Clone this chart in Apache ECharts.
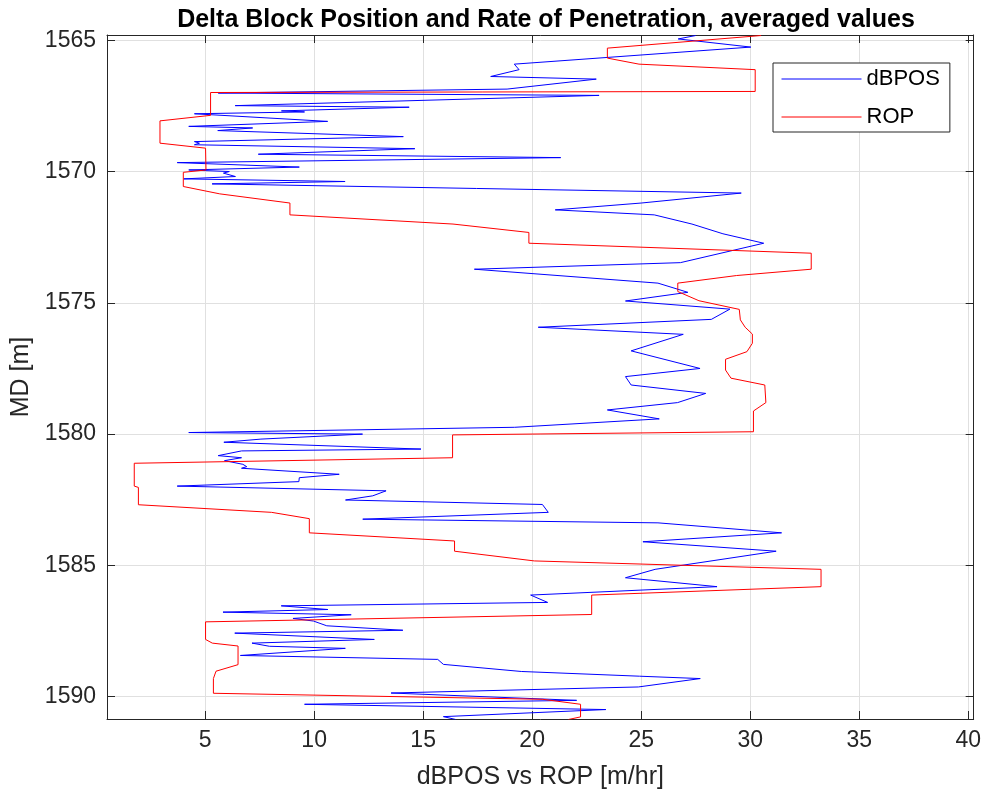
<!DOCTYPE html>
<html>
<head>
<meta charset="utf-8">
<script src="https://cdn.jsdelivr.net/npm/echarts@6/dist/echarts.min.js"></script>
<style>
  html, body { margin: 0; padding: 0; background: #ffffff; }
  #chart { width: 984px; height: 800px; }
</style>
</head>
<body>
<div id="chart"></div>
<script>
// Rate of penetration [m/hr] against measured depth [m]
const ropDepth = [1564.82, 1565.30, 1565.68, 1565.91, 1566.12, 1566.95, 1566.99, 1567.86, 1568.07, 1568.92,
  1569.11, 1569.94, 1570.03, 1570.57, 1570.85, 1571.20, 1571.65, 1572.00, 1572.32, 1572.73,
  1573.11, 1573.72, 1573.96, 1574.25, 1574.57, 1574.92, 1575.25, 1575.65, 1575.93, 1576.19,
  1576.54, 1576.86, 1577.15, 1577.56, 1577.87, 1578.13, 1578.80, 1579.12, 1579.91, 1580.03,
  1580.90, 1581.11, 1581.98, 1582.03, 1582.69, 1582.98, 1583.22, 1583.76, 1584.07, 1584.46,
  1584.83, 1585.15, 1585.81, 1586.13, 1586.87, 1587.15, 1587.82, 1587.96, 1588.07, 1588.78,
  1589.03, 1589.31, 1589.87, 1590.10, 1590.29, 1590.77, 1590.87];
const ropValue = [30.5, 23.45, 23.45, 24.9, 30.23, 30.23, 5.25, 5.25, 2.93, 2.93,
  5.02, 5.04, 4.0, 4.0, 5.67, 8.89, 8.89, 16.37, 19.85, 19.85,
  32.8, 32.8, 29.38, 26.68, 26.68, 27.65, 29.5, 29.55, 29.77, 30.1,
  30.1, 29.85, 28.87, 28.87, 29.12, 30.67, 30.72, 30.15, 30.15, 16.35,
  16.35, 1.75, 1.75, 1.94, 1.94, 8.05, 9.78, 9.78, 16.44, 16.44,
  20.1, 33.25, 33.25, 22.73, 22.73, 5.02, 5.02, 5.33, 6.51, 6.51,
  5.5, 5.38, 5.38, 20.49, 22.22, 22.22, 21.66];

// Delta block position against measured depth [m]
const dbposDepth = [1564.82, 1564.95, 1565.26, 1565.91, 1566.12, 1566.38, 1566.48, 1566.86, 1567.01, 1567.10,
  1567.49, 1567.55, 1567.69, 1567.73, 1567.80, 1568.09, 1568.28, 1568.34, 1568.44, 1568.67,
  1568.86, 1568.92, 1568.98, 1569.13, 1569.34, 1569.47, 1569.66, 1569.83, 1569.94, 1570.00,
  1570.06, 1570.19, 1570.28, 1570.38, 1570.47, 1570.82, 1571.20, 1571.46, 1571.65, 1572.00,
  1572.37, 1572.73, 1573.47, 1573.72, 1574.25, 1574.60, 1574.93, 1575.24, 1575.63, 1575.93,
  1576.20, 1576.83, 1577.50, 1577.81, 1578.13, 1578.45, 1578.80, 1579.08, 1579.42, 1579.74,
  1579.94, 1580.00, 1580.19, 1580.31, 1580.57, 1580.64, 1580.82, 1580.90, 1581.01, 1581.15,
  1581.24, 1581.30, 1581.53, 1581.66, 1581.81, 1581.98, 1582.16, 1582.35, 1582.51, 1582.68,
  1582.98, 1583.24, 1583.38, 1583.76, 1584.10, 1584.46, 1585.15, 1585.47, 1585.81, 1586.13,
  1586.41, 1586.54, 1586.68, 1586.78, 1586.88, 1587.02, 1587.12, 1587.30, 1587.47, 1587.58,
  1587.82, 1587.96, 1588.08, 1588.16, 1588.43, 1588.58, 1588.77, 1589.04, 1589.22, 1589.31,
  1589.63, 1589.86, 1590.14, 1590.29, 1590.49, 1590.76, 1590.87];
const dbposValue = [27.5, 26.7, 30.03, 19.18, 19.4, 18.1, 22.94, 18.85, 5.6, 23.07,
  6.38, 14.36, 8.5, 9.56, 4.51, 10.62, 4.25, 7.18, 5.58, 14.09,
  4.51, 4.74, 4.51, 14.62, 7.44, 21.31, 3.72, 9.32, 4.25, 6.11,
  5.84, 6.39, 4.02, 11.42, 5.32, 29.59, 25.0, 21.06, 25.6, 27.33,
  28.75, 30.62, 26.8, 17.35, 25.77, 27.14, 24.28, 29.07, 28.22, 20.28,
  26.93, 24.54, 27.7, 24.28, 24.54, 27.96, 26.67, 23.45, 25.83, 19.2,
  4.25, 12.22, 7.56, 5.86, 14.9, 6.67, 5.6, 6.67, 5.89, 6.73,
  6.91, 6.67, 11.15, 9.32, 9.3, 3.72, 13.3, 12.69, 11.44, 20.47,
  20.74, 12.23, 25.77, 31.44, 25.08, 31.19, 25.64, 24.28, 28.48, 19.93,
  20.71, 8.49, 10.63, 5.82, 11.70, 9.03, 9.97, 10.58, 14.07, 6.36,
  12.76, 7.15, 7.95, 11.43, 6.62, 15.67, 15.93, 19.5, 24.92, 27.71,
  24.87, 13.53, 22.04, 9.56, 23.38, 15.93, 16.5];

const xRange = [0.5, 40.25];
const depthRange = [1564.8, 1590.85];

const pairs = (xs, ys) => xs.map((v, i) => [v, ys[i]]);

const axisColor = '#262626';
const gridColor = '#e0e0e0';
const fontFamily = '"Liberation Sans", Arial, Helvetica, sans-serif';

const boxAxisLine = { show: true, onZero: false, lineStyle: { color: axisColor, width: 1 } };
const innerTicks = { show: true, inside: true, length: 8, lineStyle: { color: axisColor, width: 1 } };
const multipleOf5 = v => (Math.abs(v % 5) < 1e-9 ? String(v) : '');

// Legend entries show a plain line sample, no marker
const legendEntry = (name, color) => ({
  name,
  itemStyle: { color: 'rgba(0,0,0,0)', borderWidth: 0 },
  lineStyle: { color, width: 1 }
});

const chart = echarts.init(document.getElementById('chart'), null, { renderer: 'canvas' });

chart.setOption({
  animation: false,
  backgroundColor: '#ffffff',
  title: {
    text: 'Delta Block Position and Rate of Penetration, averaged values',
    left: 541, top: 3, textAlign: 'center',
    textStyle: { fontFamily, fontSize: 25, fontWeight: 'bold', color: '#000000' }
  },
  grid: { left: 107, right: 8, top: 35, bottom: 81, containLabel: false },
  legend: {
    data: [legendEntry('dBPOS', '#0000ff'), legendEntry('ROP', '#ff0000')],
    orient: 'vertical',
    left: 773, top: 63,
    padding: [5, 10, 4, 8],
    itemWidth: 80, itemHeight: 2,
    itemGap: 16,
    backgroundColor: '#ffffff',
    borderColor: axisColor, borderWidth: 1, borderRadius: 0,
    textStyle: { fontFamily, fontSize: 22, lineHeight: 22, color: '#000000' }
  },
  xAxis: [
    {
      type: 'value', position: 'bottom', min: xRange[0], max: xRange[1], splitNumber: 8,
      name: 'dBPOS vs ROP [m/hr]', nameLocation: 'middle', nameGap: 46,
      nameTextStyle: { fontFamily, fontSize: 25, color: axisColor },
      axisLine: boxAxisLine, axisTick: innerTicks,
      axisLabel: { fontFamily, fontSize: 23, color: axisColor, margin: 10, formatter: multipleOf5 },
      splitLine: { show: true, lineStyle: { color: gridColor, width: 1 } }
    },
    {
      type: 'value', position: 'top', min: xRange[0], max: xRange[1], splitNumber: 8,
      axisLine: boxAxisLine, axisTick: innerTicks,
      axisLabel: { show: false }, splitLine: { show: false }
    }
  ],
  yAxis: [
    {
      type: 'value', position: 'left', inverse: true,
      min: depthRange[0], max: depthRange[1], splitNumber: 5,
      name: 'MD [m]', nameLocation: 'middle', nameGap: 72, nameRotate: 90,
      nameTextStyle: { fontFamily, fontSize: 25, color: axisColor },
      axisLine: boxAxisLine, axisTick: innerTicks,
      axisLabel: { fontFamily, fontSize: 23, color: axisColor, margin: 11, formatter: multipleOf5 },
      splitLine: { show: true, lineStyle: { color: gridColor, width: 1 } }
    },
    {
      type: 'value', position: 'right', inverse: true,
      min: depthRange[0], max: depthRange[1], splitNumber: 5,
      axisLine: boxAxisLine, axisTick: innerTicks,
      axisLabel: { show: false }, splitLine: { show: false }
    }
  ],
  series: [
    {
      name: 'dBPOS', type: 'line', xAxisIndex: 0, yAxisIndex: 0,
      data: pairs(dbposValue, dbposDepth),
      symbol: 'none', clip: true,
      lineStyle: { color: '#0000ff', width: 1 },
      itemStyle: { color: '#0000ff' }
    },
    {
      name: 'ROP', type: 'line', xAxisIndex: 0, yAxisIndex: 0,
      data: pairs(ropValue, ropDepth),
      symbol: 'none', clip: true,
      lineStyle: { color: '#ff0000', width: 1 },
      itemStyle: { color: '#ff0000' }
    }
  ]
});
</script>
</body>
</html>
